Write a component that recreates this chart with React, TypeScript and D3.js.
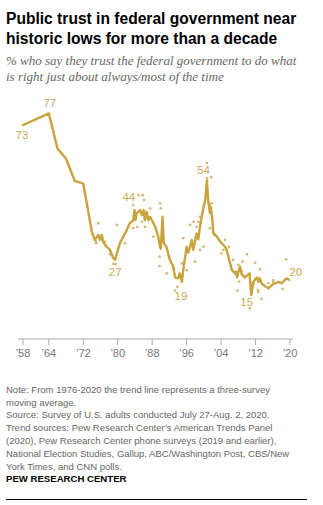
import React from "react";
import * as d3 from "d3";

const trendYears = [1958, 1964, 1966, 1968, 1970, 1972, 1974, 1974.7, 1975.5, 1975.9, 1976.3, 1976.6, 1977.4, 1978.2, 1979, 1979.4, 1979.8, 1980.5, 1981.3, 1982.1, 1982.8, 1983.6, 1983.9, 1984.1, 1984.4, 1985.2, 1985.6, 1986, 1986.3, 1986.7, 1987.1, 1987.5, 1987.9, 1988.7, 1989.4, 1989.8, 1990.0, 1990.4, 1990.7, 1991.3, 1992.1, 1992.9, 1993.3, 1994, 1994.4, 1994.9, 1995.2, 1996, 1996.4, 1997.2, 1997.5, 1997.9, 1998.3, 1998.7, 1999.1, 1999.5, 1999.9, 2000.3, 2000.7, 2001, 2001.4, 2001.6, 2001.9, 2002.2, 2003, 2003.4, 2004.2, 2004.9, 2005.3, 2005.7, 2006.1, 2006.5, 2007.3, 2007.5, 2007.7, 2008.4, 2008.8, 2009.5, 2010.6, 2011.0, 2011.5, 2012.3, 2012.7, 2013, 2013.4, 2014.2, 2015, 2015.8, 2016.5, 2017.3, 2018.1, 2018.7, 2019.2, 2019.6];
const trendValues = [73, 77, 65, 61.5, 54, 53, 36.5, 33.8, 35.5, 33.8, 35.5, 33.2, 31.5, 30.4, 27.5, 27, 29.2, 32.7, 34.9, 37.2, 39.5, 40.6, 44, 40.6, 42.9, 44, 42.3, 44, 40.6, 43.4, 40.6, 41.7, 40.6, 38.3, 35, 31.5, 30.8, 41.7, 32.7, 31.5, 27, 24.7, 21, 20.7, 22.4, 19.5, 23.5, 31.5, 29.5, 33.8, 30.4, 33, 36, 34, 38.3, 41.7, 45, 47.4, 54, 47.4, 43, 45, 42, 36, 35, 34, 32.6, 31.5, 30.4, 28, 25.8, 23.5, 22.4, 23, 21, 24.7, 22, 21, 22.4, 15, 19.5, 21, 19.5, 20.7, 19, 18, 17.3, 18.4, 19, 19.5, 19, 20, 20.7, 20.4];

const dotYears = [1975.5, 1979.8, 1975.0, 1981.7, 1978.2, 1979.0, 1979.5, 1984.8, 1985.8, 1986.1, 1983.6, 1983.6, 1984.5, 1985.6, 1986.3, 1987.5, 1989.8, 1990.0, 1988.3, 1989.7, 1989.7, 1992.0, 1991.4, 1992.9, 1993.8, 1993.3, 1994.9, 1995.2, 1996.0, 1996.8, 1997.6, 1998.7, 1997.9, 1998.3, 1999.1, 1999.9, 1999.1, 2000.7, 2000.7, 2001.7, 2001.4, 2001.8, 2001.4, 2002.6, 2004.9, 2004.5, 2004.1, 2010.0, 2019.1, 2008.0, 2009.0, 2008.8, 2008.2, 2007.8, 2009.6, 2010.7, 2011.9, 2013.0, 2011.5, 2012.6, 2013.4, 2015.0, 2016.1, 2018.3, 2019.8, 2005.8, 2006.8, 1974.9, 1977.0, 2012.6, 2016.1];
const dotValues = [39.5, 38.9, 32.7, 32.7, 28.9, 25.6, 25.6, 49.1, 49.1, 47.4, 45.7, 37.8, 38.3, 40.0, 38.3, 44.6, 46.3, 44.6, 34.9, 28.1, 24.9, 28.1, 22.4, 24.1, 17.8, 16.5, 25.8, 34.4, 23.5, 38.9, 40.0, 40.0, 26.4, 38.3, 41.7, 31.5, 30.4, 60.0, 54.8, 55.2, 45.7, 46.3, 37.8, 35.5, 33.8, 30.4, 29.2, 28.9, 27.2, 25.3, 26.4, 23.0, 19.6, 16.5, 21.3, 10.5, 26.0, 23.8, 19.0, 16.7, 13.7, 19.0, 20.1, 17.1, 20.1, 31.4, 27.0, 33.2, 33.2, 16.1, 19.5];

const labelYears = [1958, 1964, 1984.2, 1979.4, 1994.9, 2000.7, 2011.0, 2019.6];
const labelValues = [73, 77, 44, 27, 19, 54, 15, 20];

const tickYears = [1958, 1964, 1972, 1980, 1988, 1996, 2004, 2012, 2020];

const noteLines = [
  "Note: From 1976-2020 the trend line represents a three-survey",
  "moving average.",
  "Source: Survey of U.S. adults conducted July 27-Aug. 2, 2020.",
  "Trend sources: Pew Research Center\u2019s American Trends Panel",
  "(2020), Pew Research Center phone surveys (2019 and earlier),",
  "National Election Studies, Gallup, ABC/Washington Post, CBS/New",
  "York Times, and CNN polls.",
];

// layout (not data)
const labelOffsets: [number, number, string][] = [
  [-1, 14, "middle"],
  [1, -6, "middle"],
  [-7, -9, "middle"],
  [0, 16, "middle"],
  [-1, 16.5, "middle"],
  [-3.5, -7, "middle"],
  [-4.5, 10.5, "middle"],
  [1, -4, "start"],
];

const GOLD = "#c9a33c";
const LABEL_GOLD = "#cdaa52";
const DOT = "#d2b468";

export default function App() {
  const x = d3.scaleLinear().domain([1958, 2020]).range([23, 290]);
  const y = d3.scaleLinear().domain([0, 80]).range([339, 104.6]);
  const pts: [number, number][] = trendYears.map((t, i) => [t, trendValues[i]]);
  const line = d3
    .line<[number, number]>()
    .x((d) => x(d[0]))
    .y((d) => y(d[1]));
  const sans = "'Liberation Sans', Arial, sans-serif";
  return (
    <svg
      width={323}
      height={505}
      style={{ position: "absolute", left: 0, top: 0, background: "#fff" }}
    >
      <rect width={323} height={505} fill="#fff" />
      <text x={6} y={24} fontFamily={sans} fontWeight="bold" fontSize={15.6} fill="#000">
        Public trust in federal government near
      </text>
      <text x={6} y={43.5} fontFamily={sans} fontWeight="bold" fontSize={15.6} fill="#000">
        historic lows for more than a decade
      </text>
      <text x={6} y={64.5} fontFamily="'Liberation Serif', serif" fontStyle="italic" fontSize={13} fill="#666">
        % who say they trust the federal government to do what
      </text>
      <text x={6} y={80.5} fontFamily="'Liberation Serif', serif" fontStyle="italic" fontSize={13} fill="#666">
        is right just about always/most of the time
      </text>

      {/* axis */}
      <line x1={x(1956.8)} x2={x(2020.7)} y1={y(0)} y2={y(0)} stroke="#aaa" strokeWidth={1} />
      {tickYears.map((t) => (
        <g key={t}>
          <line x1={x(t)} x2={x(t)} y1={y(0)} y2={y(0) + 6} stroke="#aaa" strokeWidth={1} />
          <text x={x(t)} y={y(0) + 18} textAnchor="middle" fontFamily={sans} fontSize={11} fill="#777">
            {"\u2019" + String(t).slice(2)}
          </text>
        </g>
      ))}

      {/* dots */}
      {dotYears.map((t, i) => (
        <circle key={i} cx={x(t)} cy={y(dotValues[i])} r={1.4} fill={DOT} opacity={0.9} />
      ))}

      <path d={line(pts) || ""} fill="none" stroke={GOLD} strokeWidth={2.4} strokeLinejoin="round" strokeLinecap="round" />

      {labelYears.map((t, i) => (
        <text
          key={i}
          x={x(t) + labelOffsets[i][0]}
          y={y(labelValues[i]) + labelOffsets[i][1]}
          textAnchor={labelOffsets[i][2] as any}
          fontFamily={sans}
          fontSize={11.5}
          fill={LABEL_GOLD}
        >
          {labelValues[i]}
        </text>
      ))}

      {noteLines.map((s, i) => (
        <text key={i} x={6} y={392.8 + i * 12.8} fontFamily={sans} fontSize={9.5} fill="#666">
          {s}
        </text>
      ))}
      <text x={6} y={482} fontFamily={sans} fontWeight="bold" fontSize={9.6} fill="#000">
        PEW RESEARCH CENTER
      </text>
      <line x1={6} x2={307} y1={499.5} y2={499.5} stroke="#000" strokeWidth={1.2} />
    </svg>
  );
}
